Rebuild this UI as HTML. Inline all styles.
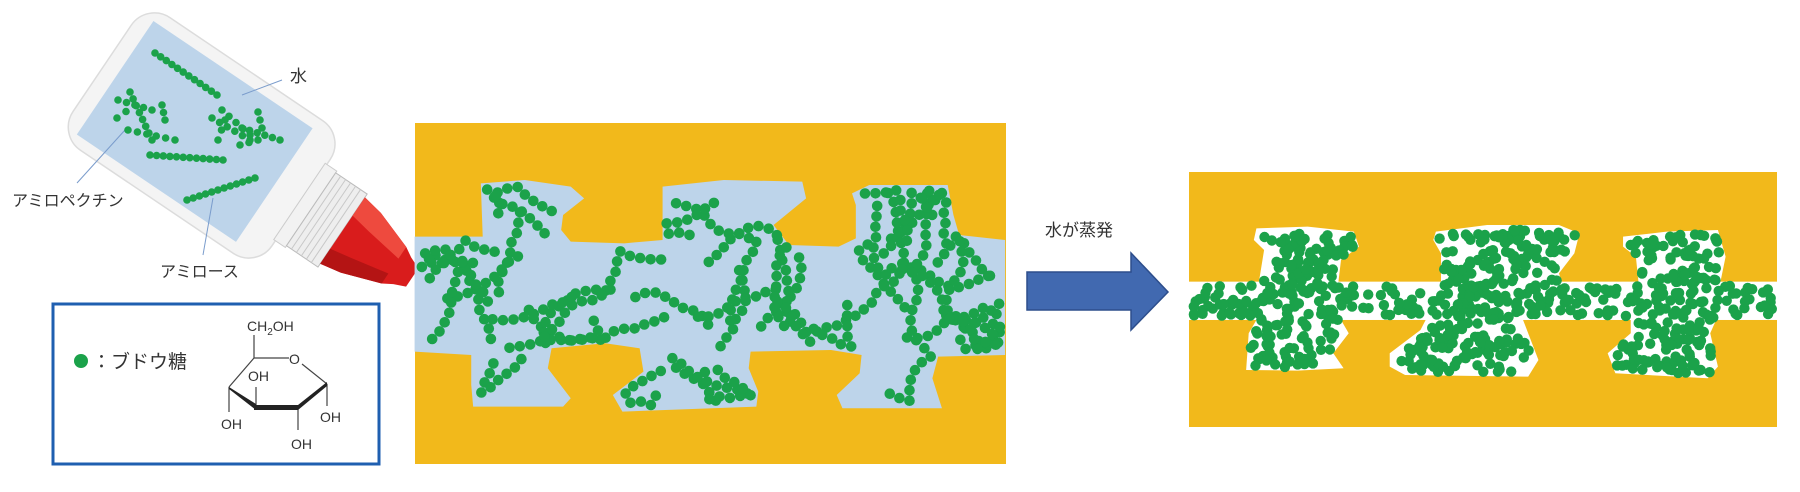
<!DOCTYPE html>
<html><head><meta charset="utf-8">
<style>
html,body{margin:0;padding:0;background:#fff;}
body{width:1800px;height:487px;overflow:hidden;}
text{font-family:"Liberation Sans","Noto Sans CJK JP",sans-serif;}
</style></head>
<body>
<svg id="s" width="1800" height="487" viewBox="0 0 1800 487" xmlns="http://www.w3.org/2000/svg">
<rect width="1800" height="487" fill="#fff"/>
<!-- bottle -->
<g transform="translate(195,131) rotate(34)">
  <rect x="-112" y="-80" width="240" height="160" rx="28" fill="#f4f4f4" stroke="#dcdcdc" stroke-width="1.5"/>
  <rect x="-96" y="-68" width="192" height="137" fill="#bdd4ea"/>
  <rect x="126" y="-46" width="14" height="92" fill="#f2f2f2" stroke="#ccc"/>
  <rect x="140" y="-44" width="38" height="88" fill="#eeeeee" stroke="#bbb"/>
  <g stroke="#c8c8c8" stroke-width="1">
    <line x1="146" y1="-44" x2="146" y2="44"/><line x1="152" y1="-44" x2="152" y2="44"/><line x1="158" y1="-44" x2="158" y2="44"/><line x1="164" y1="-44" x2="164" y2="44"/><line x1="170" y1="-44" x2="170" y2="44"/>
  </g>
  <polygon points="178,-40 200,-36 240,-22 250,-16 262,-11 262,11 250,16 240,22 200,36 178,40" fill="#d91c1c"/>
  <polygon points="178,-40 200,-36 240,-22 240,-8 200,-14 178,-18" fill="#ee4a3e"/>
  <polygon points="178,22 200,18 240,10 240,22 200,36 178,40" fill="#b41414"/>
</g>
<g stroke="#7a9ccc" stroke-width="1">
  <line x1="282" y1="80" x2="242" y2="95"/>
  <line x1="125" y1="130" x2="77" y2="183"/>
  <line x1="213" y1="198" x2="203" y2="255"/>
</g>
<text x="290" y="82" font-size="17" fill="#333">水</text>
<text x="12" y="206" font-size="16" fill="#333">アミロペクチン</text>
<text x="160" y="277" font-size="16" fill="#333">アミロース</text>
<g id="bottleDots" fill="#1ba24a"></g>

<!-- legend -->
<rect x="53" y="304" width="326" height="160" fill="#fff" stroke="#1f5fb0" stroke-width="3"/>
<circle cx="81" cy="361" r="7" fill="#1ba24a"/>
<text x="92" y="368" font-size="19" fill="#333">：ブドウ糖</text>
<text x="247" y="331" font-size="14" fill="#333">CH<tspan font-size="10" dy="4">2</tspan><tspan dy="-4">OH</tspan></text>
<g stroke="#444" stroke-width="1.2" fill="none">
  <line x1="254" y1="335" x2="254" y2="358"/>
  <line x1="254" y1="358" x2="289" y2="358"/>
  <line x1="302" y1="364" x2="327" y2="384"/>
  <line x1="254" y1="358" x2="229" y2="387"/>
  <line x1="327" y1="384" x2="327" y2="406"/>
  <line x1="229" y1="387" x2="229" y2="412"/>
  <line x1="256" y1="387" x2="256" y2="407"/>
  <line x1="298" y1="408" x2="298" y2="430"/>
</g>
<polygon points="229,387 256,404 256,410 229,389" fill="#222"/>
<polygon points="254,405 298,405 298,410 254,410" fill="#222"/>
<polygon points="298,405 327,382 327,386 298,410" fill="#222"/>
<text x="289" y="364" font-size="14" fill="#333">O</text>
<text x="248" y="381" font-size="14" fill="#333">OH</text>
<text x="221" y="429" font-size="14" fill="#333">OH</text>
<text x="320" y="422" font-size="14" fill="#333">OH</text>
<text x="291" y="449" font-size="14" fill="#333">OH</text>

<!-- middle -->
<rect x="415" y="123" width="591" height="341" fill="#f2b91b"/>
<g transform="translate(410,115) scale(0.3827,0.3333)">
  <path id="midpoly" fill="#bdd4ea" d=""/>
</g>
<g id="midDots" fill="#1ba24a"></g>

<!-- arrow -->
<text x="1045" y="236" font-size="17" fill="#333">水が蒸発</text>
<polygon points="1027,272 1131,272 1131,253 1168,292 1131,330 1131,310 1027,310" fill="#4169b0" stroke="#2d4e8c" stroke-width="1.5"/>

<!-- right -->
<rect x="1189" y="172" width="588" height="255" fill="#f2b91b"/>
<g transform="translate(1000,100) scale(0.5128,0.3333)" fill="#fff">
  <rect x="368" y="545" width="1150" height="115"/>
  <polygon id="b1" points=""/>
  <polygon id="b2" points=""/>
  <polygon id="b3" points=""/>
</g>
<g id="rightDots" fill="#1ba24a"></g>
</svg>
<script>
var seed=12345;function rnd(){seed=(seed*1103515245+12345)%2147483648;return seed/2147483648;}
function pip(pt,poly){var x=pt[0],y=pt[1],ins=false;for(var i=0,j=poly.length-1;i<poly.length;j=i++){var xi=poly[i][0],yi=poly[i][1],xj=poly[j][0],yj=poly[j][1];if(((yi>y)!=(yj>y))&&(x<(xj-xi)*(y-yi)/(yj-yi)+xi))ins=!ins;}return ins;}
var NS="http://www.w3.org/2000/svg";
function dot(g,x,y,r){var c=document.createElementNS(NS,"circle");c.setAttribute("cx",x.toFixed(1));c.setAttribute("cy",y.toFixed(1));c.setAttribute("r",r);g.appendChild(c);}
var mid=[[12,365],[190,365],[185,205],[300,195],[420,215],[455,250],[400,300],[395,345],[420,380],[560,385],[660,375],[660,215],[820,195],[1025,200],[1035,250],[950,330],[990,390],[1120,395],[1165,370],[1165,270],[1155,235],[1200,210],[1405,210],[1420,300],[1435,360],[1555,375],[1555,720],[1380,725],[1365,790],[1390,880],[1130,880],[1115,840],[1175,775],[1180,720],[1100,705],[890,710],[885,760],[910,830],[905,875],[555,890],[530,840],[610,770],[600,700],[510,685],[370,700],[360,760],[420,850],[400,875],[165,875],[160,810],[160,720],[12,710]];
document.getElementById("midpoly").setAttribute("d","M"+mid.map(function(p){return p.join(",")}).join("L")+"Z");
var midA=mid.map(function(p){return [410+p[0]*0.3827,115+p[1]*0.3333];});
var g=document.getElementById("midDots");
for(var c=0;c<70;c++){
  var x=420+rnd()*580,y=180+rnd()*220,a=rnd()*6.28,n=0,tries=0;
  if(!pip([x,y],midA))continue;
  while(n<9&&tries<30){tries++;a+= (rnd()-0.5)*0.9;var nx=x+Math.cos(a)*10.5,ny=y+Math.sin(a)*10.5;
    if(pip([nx,ny],midA)&&pip([nx+4,ny],midA)&&pip([nx-4,ny],midA)&&pip([nx,ny+4],midA)&&pip([nx,ny-4],midA)){x=nx;y=ny;dot(g,x,y,5.3);n++;}else{a+=1.6;}}
}
var b1=[[500,385],[600,380],[690,395],[700,440],[665,480],[660,545],[665,660],[680,700],[650,760],[670,805],[580,812],[480,810],[485,700],[500,660],[505,545],[515,450],[495,420]];
var b2=[[850,395],[950,375],[1090,375],[1130,400],[1120,460],[1090,520],[1095,545],[1020,660],[1050,780],[1030,830],[790,825],[760,800],[760,760],[820,690],[830,660],[860,545],[860,460],[845,420]];
var b3=[[1215,410],[1300,395],[1400,390],[1415,470],[1405,545],[1395,665],[1385,700],[1400,800],[1380,835],[1200,820],[1185,760],[1230,700],[1230,660],[1245,545],[1240,470],[1215,440]];
function setp(id,p){document.getElementById(id).setAttribute("points",p.map(function(q){return q.join(",")}).join(" "));}
setp("b1",b1);setp("b2",b2);setp("b3",b3);
function tr(p){return p.map(function(q){return [1000+q[0]*0.5128,100+q[1]*0.3333];});}
var B=[tr(b1),tr(b2),tr(b3),tr([[368,548],[1515,548],[1515,657],[368,657]])];
function inR(x,y){for(var i=0;i<B.length;i++)if(pip([x,y],B[i]))return true;return false;}
var gr=document.getElementById("rightDots");var cnt=0;
for(var k=0;k<12000&&cnt<800;k++){var x=1192+rnd()*585,y=220+rnd()*185;
  if(inR(x,y)&&inR(x+3,y)&&inR(x-3,y)&&inR(x,y+3)&&inR(x,y-3)){if(rnd()<0.85){dot(gr,x,y,5.2);cnt++;}}}
var gb=document.getElementById("bottleDots");
function chain(x1,y1,x2,y2,n){for(var i=0;i<n;i++){dot(gb,x1+(x2-x1)*i/(n-1),y1+(y2-y1)*i/(n-1),3.8);}}
chain(155,53,217,95,12);chain(150,155,223,160,12);chain(187,200,255,178,12);
chain(118,100,152,110,5);chain(130,92,152,140,8);chain(117,118,135,105,3);chain(128,130,175,140,6);chain(162,105,165,120,3);
chain(212,118,250,140,6);chain(222,110,250,135,5);chain(242,128,280,140,6);chain(218,140,225,120,3);chain(240,145,258,140,3);chain(258,112,262,128,3);
</script>
</body></html>
